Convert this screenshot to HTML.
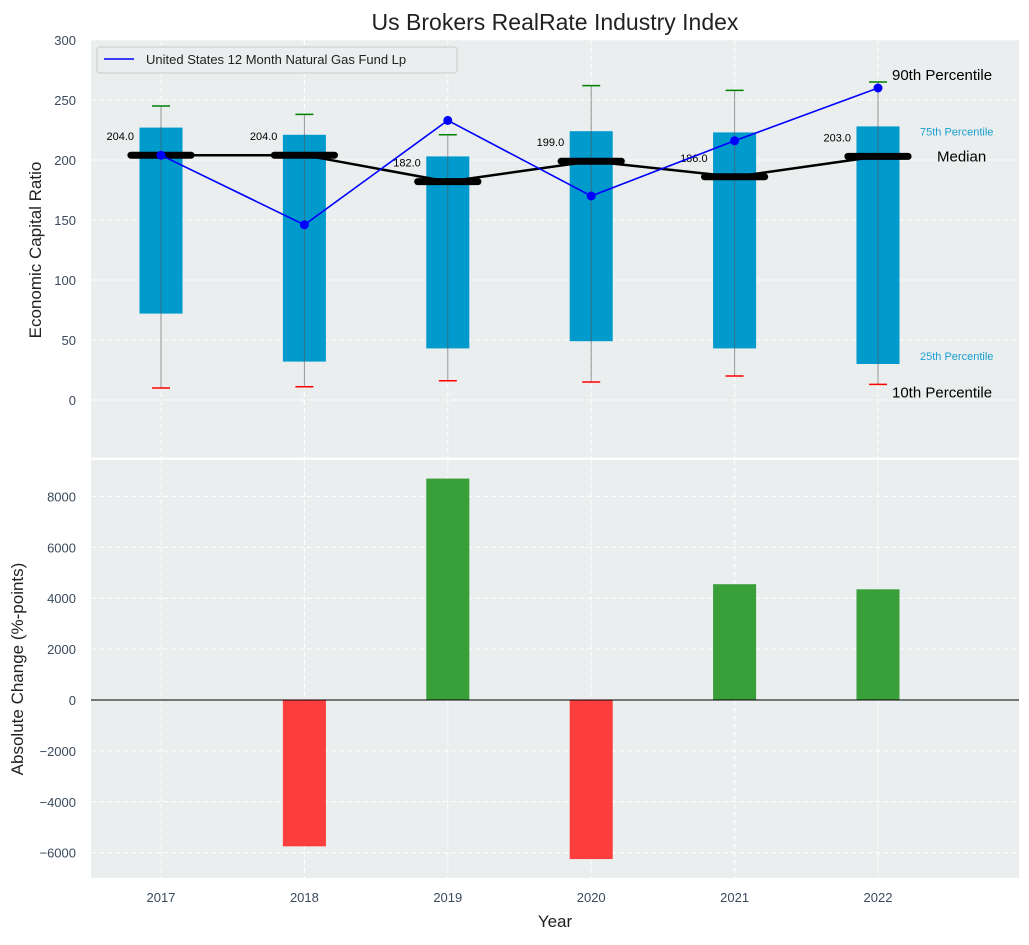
<!DOCTYPE html>
<html><head><meta charset="utf-8"><style>
body{margin:0;background:#fff;font-family:"Liberation Sans",Arial,sans-serif}
svg text{font-family:"Liberation Sans",Arial,sans-serif}
</style></head><body>
<svg id="c" width="1029" height="940" xmlns="http://www.w3.org/2000/svg"></svg>
<script>
const years=[2017,2018,2019,2020,2021,2022];
const p10=[10,11,16,15,20,13];
const p25=[72,32,43,49,43,30];
const p75=[227,221,203,224,223,228];
const p90=[245,238,221,262,258,265];
const medians=[204,204,182,199,186,203];
const fund=[204,146,233,170,216,260];
const changes=[0,-5750,8700,-6250,4550,4350];
const topTicks=[0,50,100,150,200,250,300];
const botTicks=[-6000,-4000,-2000,0,2000,4000,6000,8000];

const NS="http://www.w3.org/2000/svg",svg=document.getElementById('c');
function el(t,a,txt,p){const e=document.createElementNS(NS,t);for(const k in a)e.setAttribute(k,a[k]);if(txt!=null)e.textContent=txt;(p||svg).appendChild(e);return e;}
const L=91,R=1019;
const pxPer=143.4;
const X=i=>161+i*pxPer;
const yT=v=>400-v*1.2;
const yB=v=>700-v*0.02545;

let a=el('rect',{x:L,y:40,width:R-L,height:417.5,fill:'#eaeeee'});

a=el('rect',{x:L,y:460,width:R-L,height:418,fill:'#eaeeee'});


years.forEach((y,i)=>{
  el('line',{x1:X(i),x2:X(i),y1:40,y2:457.5,stroke:'#fff','stroke-dasharray':'5,3','stroke-width':1});
  el('line',{x1:X(i),x2:X(i),y1:460,y2:878,stroke:'#fff','stroke-dasharray':'5,3','stroke-width':1});
  let t=el('text',{x:X(i),y:902,'text-anchor':'middle','font-size':13,fill:'#3a4a5c'},y);
  
});
topTicks.forEach(v=>{
  el('line',{x1:L,x2:R,y1:yT(v),y2:yT(v),stroke:'#fff','stroke-dasharray':'5,3'});
  let t=el('text',{x:76,y:yT(v)+5,'text-anchor':'end','font-size':13,fill:'#3a4a5c'},v);
  
});
botTicks.forEach(v=>{
  el('line',{x1:L,x2:R,y1:yB(v),y2:yB(v),stroke:'#fff','stroke-dasharray':'5,3'});
  let t=el('text',{x:76,y:yB(v)+5,'text-anchor':'end','font-size':13,fill:'#3a4a5c'},v<0?'\u2212'+(-v):v);
  
});

const bw=0.3*pxPer, mw=0.42*pxPer;
years.forEach((y,i)=>{
  const x=X(i);
  let r=el('rect',{x:x-bw/2,y:yT(p75[i]),width:bw,height:yT(p25[i])-yT(p75[i]),fill:'#009acd'});
  
  el('line',{x1:x,x2:x,y1:yT(p90[i]),y2:yT(p10[i]),stroke:'#555','stroke-opacity':0.6,'stroke-width':1});
  el('line',{x1:x-9,x2:x+9,y1:yT(p90[i]),y2:yT(p90[i]),stroke:'green','stroke-width':1.5});
  el('line',{x1:x-9,x2:x+9,y1:yT(p10[i]),y2:yT(p10[i]),stroke:'red','stroke-width':1.5});
});
let mp=years.map((y,i)=>X(i)+','+yT(medians[i])).join(' ');
let ml=el('polyline',{points:mp,fill:'none',stroke:'#000','stroke-width':2.5});

years.forEach((y,i)=>{
  let m=el('line',{x1:X(i)-mw/2,x2:X(i)+mw/2,y1:yT(medians[i]),y2:yT(medians[i]),stroke:'#000','stroke-width':7,'stroke-linecap':'round'});
  
  let t=el('text',{x:X(i)-27,y:yT(medians[i])-15,'text-anchor':'end','font-size':11,fill:'#000'},medians[i].toFixed(1));
  
});
let fl=el('polyline',{points:years.map((y,i)=>X(i)+','+yT(fund[i])).join(' '),fill:'none',stroke:'blue','stroke-width':1.6});

years.forEach((y,i)=>{
  let c=el('circle',{cx:X(i),cy:yT(fund[i]),r:4.5,fill:'blue'});
  
});
const last=5;
[['90th Percentile',p90[last],15,'#000',892,-2],['75th Percentile',p75[last],11,'#1a9fd0',920,9],['Median',medians[last],15,'#000',937,5],['25th Percentile',p25[last],11,'#1a9fd0',920,-4],['10th Percentile',p10[last],15,'#000',892,13]].forEach(d=>{
  let t=el('text',{x:d[4],y:yT(d[1])+d[5],'font-size':d[2],fill:d[3]},d[0]);
  
});
let lg=el('g',{});
el('rect',{x:97,y:47,width:360,height:26,rx:3,fill:'#eaeeee',stroke:'#ccc'},null,lg);
el('line',{x1:104,x2:134,y1:59,y2:59,stroke:'blue','stroke-width':1.6},null,lg);
el('text',{x:146,y:64,'font-size':13,fill:'#222'},'United States 12 Month Natural Gas Fund Lp',lg);

years.forEach((y,i)=>{
  const v=changes[i];if(v===0)return;
  let b=el('rect',{x:X(i)-bw/2,y:Math.min(yB(v),yB(0)),width:bw,height:Math.abs(yB(v)-yB(0)),fill:v>0?'#2e9a2e':'#ff3333','fill-opacity':0.95});
  
});
el('line',{x1:L,x2:R,y1:yB(0),y2:yB(0),stroke:'#000','stroke-width':1});

let t=el('text',{x:555,y:30,'text-anchor':'middle','font-size':23,fill:'#222'},'Us Brokers RealRate Industry Index');

t=el('text',{x:0,y:0,'text-anchor':'middle','font-size':17,fill:'#222',transform:'translate(41,250) rotate(-90)'},'Economic Capital Ratio');

t=el('text',{x:0,y:0,'text-anchor':'middle','font-size':17,fill:'#222',transform:'translate(23,669) rotate(-90)'},'Absolute Change (%-points)');

t=el('text',{x:555,y:927,'text-anchor':'middle','font-size':17,fill:'#222'},'Year');

</script>
</body></html>
